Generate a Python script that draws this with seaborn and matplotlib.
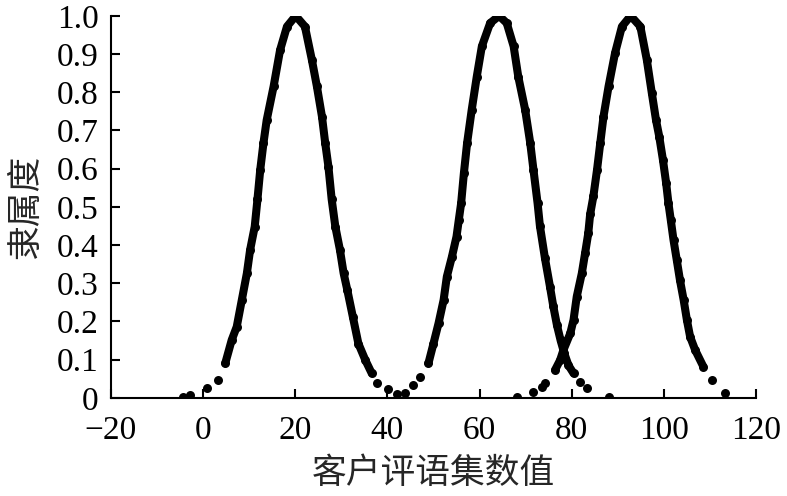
import matplotlib
matplotlib.use("Agg")
import matplotlib.pyplot as plt
import seaborn as sns
import pandas as pd

# points
c1_x = [-4.3, -2.8, 0.8, 3.3, 4.8, 6.2, 7.3, 8.4, 9.5, 10.2, 11.2, 11.8, 12.4, 13.1, 13.8,
        15.3, 16.7, 18.2, 20.1, 22.1, 23.6, 24.7, 25.8, 26.5, 27.2, 27.9, 28.7, 29.7,
        30.5, 31.3, 32.5, 33.7, 35.2, 36.6, 37.7, 40.2, 42.0]
c1_y = [0.003, 0.007, 0.025, 0.046, 0.090, 0.151, 0.186, 0.256, 0.326, 0.387, 0.448, 0.52,
        0.597, 0.667, 0.727, 0.815, 0.91, 0.972, 1.0, 0.972, 0.885, 0.815, 0.736, 0.667,
        0.605, 0.52, 0.448, 0.387, 0.326, 0.282, 0.212, 0.142, 0.099, 0.064, 0.038, 0.022, 0.01]

c2_x = [43.8, 45.6, 47.1, 48.9, 50.0, 51.1, 52.2, 52.9, 54.0, 55.0, 55.5, 56.0, 56.6, 57.3,
        58.3, 59.4, 60.5, 62.3, 64.25, 65.9, 67.4, 68.4, 69.9, 71.0, 71.7, 72.6, 73.1, 74.2,
        75.3, 76.0, 76.8, 77.6, 78.4, 79.3, 80.4, 81.8, 83.3, 88.0]
c2_y = [0.012, 0.033, 0.055, 0.090, 0.142, 0.195, 0.256, 0.317, 0.369, 0.422, 0.466, 0.509,
        0.588, 0.667, 0.754, 0.841, 0.920, 0.981, 1.0, 0.981, 0.920, 0.841, 0.754, 0.667,
        0.597, 0.509, 0.45, 0.365, 0.29, 0.24, 0.19, 0.15, 0.116, 0.085, 0.064, 0.042, 0.025, 0.003]

c3_x = [68.1, 71.7, 73.5, 74.2, 76.4, 77.5, 78.2, 79.7, 80.4, 81.1, 82.2, 82.9, 83.6, 84.0,
        84.7, 85.5, 86.2, 86.9, 88.0, 89.4, 90.9, 92.8, 94.9, 96.3, 97.4, 98.3, 99.0, 99.8,
        100.5, 101.0, 101.5, 102.1, 102.8, 103.5, 104.3, 105.0, 105.7, 106.8, 108.6, 110.4, 113.3]
c3_y = [0.003, 0.016, 0.029, 0.038, 0.073, 0.099, 0.125, 0.169, 0.204, 0.265, 0.326, 0.378,
        0.431, 0.48, 0.527, 0.597, 0.667, 0.736, 0.815, 0.902, 0.972, 1.0, 0.972, 0.885, 0.797,
        0.727, 0.684, 0.623, 0.562, 0.509, 0.466, 0.413, 0.361, 0.308, 0.256, 0.204, 0.160,
        0.125, 0.081, 0.046, 0.012]

x_ticks = [-20, 0, 20, 40, 60, 80, 100, 120]
y_ticks = [0, 0.1, 0.2, 0.3, 0.4, 0.5, 0.6, 0.7, 0.8, 0.9, 1.0]
y_tick_labels = ["0", "0.1", "0.2", "0.3", "0.4", "0.5", "0.6", "0.7", "0.8", "0.9", "1.0"]

df = pd.concat([
    pd.DataFrame({"x": c1_x, "y": c1_y, "curve": 1}),
    pd.DataFrame({"x": c2_x, "y": c2_y, "curve": 2}),
    pd.DataFrame({"x": c3_x, "y": c3_y, "curve": 3}),
], ignore_index=True)

sns.set_style("ticks")
plt.rcParams['font.family'] = ['Liberation Serif', 'Noto Sans CJK SC']
cjk = ['Noto Sans CJK SC']

fig = plt.figure(figsize=(7.87, 4.96), dpi=100)
ax = fig.add_axes([0.141, 0.198, 0.8196, 0.7701])

# dense part of each curve drawn as a thick band, sparse tails as dots
dense = df[df["y"] >= 0.06]
sns.lineplot(data=dense, x="x", y="y", units="curve", estimator=None, sort=False,
             color="black", linewidth=5.8, solid_capstyle="round",
             solid_joinstyle="round", ax=ax)
sns.scatterplot(data=df, x="x", y="y", color="black", s=42, edgecolor="black",
                linewidth=0, ax=ax)

ax.set_xlim(-20, 120)
ax.set_ylim(0, 1.0)
ax.set_xticks(x_ticks)
ax.set_yticks(y_ticks)
ax.set_yticklabels(y_tick_labels)
ax.tick_params(direction="in", length=6.5, width=1.5, labelsize=24, colors="black")
ax.tick_params(axis="x", pad=13)
ax.tick_params(axis="y", pad=9)
for side in ["top", "right"]:
    ax.spines[side].set_visible(False)
for side in ["left", "bottom"]:
    ax.spines[side].set_linewidth(1.5)
    ax.spines[side].set_color("black")

ax.set_xlabel("客户评语集数值", fontsize=25, family=cjk, labelpad=7)
ax.set_ylabel("隶属度", fontsize=25, family=cjk, labelpad=10)

fig.savefig("out.png", dpi=100)
